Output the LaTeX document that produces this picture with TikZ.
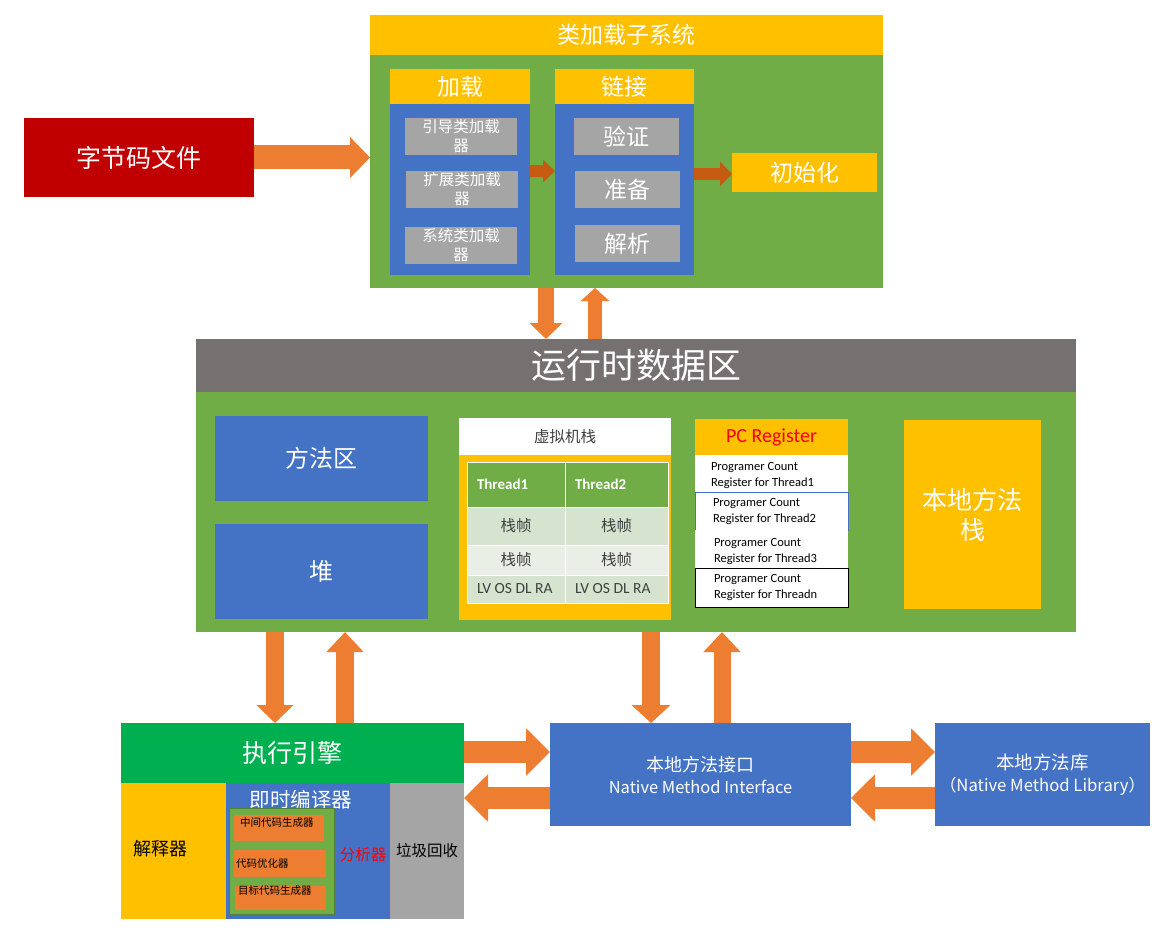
\documentclass[tikz,border=0pt]{standalone}
\usepackage{fontspec}
\setmainfont{Carlito}
\newfontfamily\cjk{Noto Sans CJK SC}
\usetikzlibrary{arrows.meta}
\definecolor{cyel}{HTML}{FFC000}
\definecolor{cgrn}{HTML}{70AD47}
\definecolor{cdgrn}{HTML}{548235}
\definecolor{cblu}{HTML}{4472C4}
\definecolor{cgry}{HTML}{A5A5A5}
\definecolor{cora}{HTML}{ED7D31}
\definecolor{cdora}{HTML}{C55A11}
\definecolor{chdr}{HTML}{767171}
\definecolor{cred}{HTML}{C00000}
\definecolor{cexe}{HTML}{00B050}
\definecolor{crowa}{HTML}{D5E3CF}
\definecolor{crowb}{HTML}{E9EFE6}
\definecolor{ctxt}{HTML}{404040}
\newcommand\fs[2]{\fontsize{#1}{#2}\selectfont}
\begin{document}
\begin{tikzpicture}[x=1pt,y=-1pt,
  box/.style={rectangle,inner sep=0pt,outer sep=0pt,anchor=north west,align=center,text=white},
  cjkf/.style n args={2}{font={\cjk\fs{#1}{#2}}},
  barrow/.style n args={4}{draw=#1,line width=#2,line cap=butt,-{Triangle[width=#3,length=#4]}},
  lbl/.style={inner sep=0pt,outer sep=0pt,anchor=west,align=left}]
\useasboundingbox (0,0) rectangle (1172,936);

% ---------- class loader subsystem ----------
\node[box,fill=cyel,minimum width=513,minimum height=40,cjkf={23}{26}] (clshead) at (370,15) {类加载子系统};
\node[box,fill=cgrn,minimum width=513,minimum height=233] (cls) at (370,55) {};
\node[box,fill=cyel,minimum width=140,minimum height=35,cjkf={23}{26}] (loadhead) at (390,69) {加载};
\node[box,fill=cblu,minimum width=140,minimum height=171] (load) at (390,104) {};
\node[box,fill=cgry,minimum width=112,minimum height=37,cjkf={15.5}{19}] (boot) at (405,118) {引导类加载\\器};
\node[box,fill=cgry,minimum width=112,minimum height=37,cjkf={15.5}{19}] (ext) at (406,171) {扩展类加载\\器};
\node[box,fill=cgry,minimum width=112,minimum height=37,cjkf={15.5}{19}] (sys) at (405,227) {系统类加载\\器};
\node[box,fill=cyel,minimum width=139,minimum height=35,cjkf={23}{26}] (linkhead) at (555,69) {链接};
\node[box,fill=cblu,minimum width=139,minimum height=171] (link) at (555,104) {};
\node[box,fill=cgry,minimum width=105,minimum height=37,cjkf={23}{26}] (verify) at (574,118) {验证};
\node[box,fill=cgry,minimum width=105,minimum height=37,cjkf={23}{26}] (prep) at (575,171) {准备};
\node[box,fill=cgry,minimum width=105,minimum height=37,cjkf={23}{26}] (resolve) at (575,225) {解析};
\node[box,fill=cyel,minimum width=145,minimum height=39,cjkf={23}{26}] (init) at (732,153) {初始化};
\node[box,fill=cred,minimum width=230,minimum height=79,cjkf={25}{28}] (bytecode) at (24,118) {字节码文件};

% ---------- runtime data area ----------
\node[box,fill=chdr,minimum width=880,minimum height=53,cjkf={35}{38}] (rthead) at (196,339) {运行时数据区};
\node[box,fill=cgrn,minimum width=880,minimum height=240] (rt) at (196,392) {};
\node[box,fill=cblu,minimum width=213,minimum height=85,cjkf={24}{28}] (method) at (215,416) {方法区};
\node[box,fill=cblu,minimum width=213,minimum height=95,cjkf={24}{28}] (heap) at (215,524) {堆};
\node[box,fill=white,minimum width=212,minimum height=37,cjkf={15.5}{18},text=ctxt] (vmshead) at (459,418) {虚拟机栈};
\node[box,fill=cyel,minimum width=212,minimum height=165] (vms) at (459,455) {};
\begin{scope}[every node/.style={box,draw=white,line width=1pt,cjkf={15.5}{18},text=ctxt}]
\node[fill=cgrn,minimum width=98,minimum height=45] (t11) at (467,462) {};
\node[fill=cgrn,minimum width=103,minimum height=45] (t12) at (565,462) {};
\node[fill=crowa,minimum width=98,minimum height=38] (t21) at (467,507) {栈帧};
\node[fill=crowa,minimum width=103,minimum height=38] (t22) at (565,507) {栈帧};
\node[fill=crowb,minimum width=98,minimum height=30] (t31) at (467,545) {栈帧};
\node[fill=crowb,minimum width=103,minimum height=30] (t32) at (565,545) {栈帧};
\node[fill=crowa,minimum width=98,minimum height=28] (t41) at (467,575) {};
\node[fill=crowa,minimum width=103,minimum height=28] (t42) at (565,575) {};
\end{scope}
\node[lbl,text=white,font=\bfseries\fs{15}{17}] (th1) at ([xshift=10pt]t11.west) {Thread1};
\node[lbl,text=white,font=\bfseries\fs{15}{17}] (th2) at ([xshift=10pt]t12.west) {Thread2};
\node[lbl,text=ctxt,font=\fs{15.5}{17}] (lv1) at ([xshift=10pt]t41.west) {LV OS DL RA};
\node[lbl,text=ctxt,font=\fs{15.5}{17}] (lv2) at ([xshift=10pt]t42.west) {LV OS DL RA};

\node[box,fill=cyel,minimum width=153,minimum height=36,text=red,font=\fs{20}{22}] (pchead) at (695,419) {PC Register};
\node[box,fill=white,minimum width=153,minimum height=37] (pc1) at (695,455) {};
\node[box,fill=white,draw=cblu,line width=0.8pt,minimum width=153,minimum height=38] (pc2) at (695,492) {};
\node[box,fill=white,minimum width=153,minimum height=38] (pc3) at (695,530) {};
\node[box,fill=white,draw=black,line width=1pt,minimum width=153,minimum height=39] (pc4) at (695,568) {};
\begin{scope}[every node/.style={lbl,text=black,font=\fs{12.5}{16}}]
\node (pct1) at ([xshift=16pt,yshift=-2pt]pc1.west) {Programer Count\\Register for Thread1};
\node (pct2) at ([xshift=18pt,yshift=-1pt]pc2.west) {Programer Count\\Register for Thread2};
\node (pct3) at ([xshift=19pt,yshift=-3pt]pc3.west) {Programer Count\\Register for Thread3};
\node (pct4) at ([xshift=19pt]pc4.west) {Programer Count\\Register for Threadn};
\end{scope}
\node[box,fill=cyel,minimum width=137,minimum height=189,cjkf={25}{30}] (nstack) at (904,420) {本地方法\\栈};

% ---------- execution engine ----------
\node[box,fill=cexe,minimum width=343,minimum height=60,cjkf={25}{28}] (exec) at (121,723) {执行引擎};
\node[box,fill=cyel,minimum width=105,minimum height=136] (interp) at (121,783) {};
\node[lbl,text=black,cjkf={18}{20}] (interpt) at (133,849) {解释器};
\node[box,fill=cblu,minimum width=164,minimum height=136] (jit) at (226,783) {};
\node[text=white,inner sep=0pt,cjkf={20.5}{22}] (jitt) at (301,800) {即时编译器};
\node[box,fill=cgry,minimum width=74,minimum height=136,text=black,cjkf={15.5}{18}] (gc) at (390,783) {垃圾回收};
\node[box,fill=cgrn,draw=cdgrn,line width=1pt,minimum width=105,minimum height=106] (jitin) at (229,808) {};
\node[box,fill=cora,minimum width=90,minimum height=26] (o1) at (234,815) {};
\node[box,fill=cora,minimum width=92,minimum height=27] (o2) at (234,850) {};
\node[box,fill=cora,minimum width=91,minimum height=24] (o3) at (235,886) {};
\node[lbl,text=black,cjkf={10.5}{12}] (o1t) at (240,823) {中间代码生成器};
\node[lbl,text=black,cjkf={10.5}{12}] (o2t) at (236,864) {代码优化器};
\node[lbl,text=black,cjkf={10.5}{12}] (o3t) at (238,891) {目标代码生成器};
\node[text=red,inner sep=0pt,cjkf={15.5}{18}] (ana) at (363,855) {分析器};

\node[box,fill=cblu,minimum width=301,minimum height=103,cjkf={16.5}{22}] (nmi) at (550,723) {{\fs{18}{22}本地方法接口}\\Native Method Interface};
\node[box,fill=cblu,minimum width=215,minimum height=103,cjkf={16.7}{22}] (nml) at (935,723) {{\fs{18.5}{22}本地方法库}\\（Native Method Library）};

% ---------- block arrows ----------
\draw[barrow={cora}{24pt}{40pt}{20pt}] (bytecode.east) -- (cls.west |- bytecode.east);
\draw[barrow={cdora}{12pt}{22pt}{12pt}] (load.east |- 0,171) -- (link.west |- 0,171);
\draw[barrow={cdora}{12pt}{24pt}{12pt}] (link.east |- 0,174) -- (init.west |- 0,174);
\draw[barrow={cora}{16pt}{32pt}{16pt}] (546,0 |- cls.south) -- (546,0 |- rthead.north);
\draw[barrow={cora}{14pt}{28pt}{13pt}] (595,0 |- rthead.north) -- (595,0 |- cls.south);
\draw[barrow={cora}{18pt}{36pt}{18pt}] (275,0 |- rt.south) -- (275,0 |- exec.north);
\draw[barrow={cora}{18pt}{36pt}{20pt}] (345,0 |- exec.north) -- (345,0 |- rt.south);
\draw[barrow={cora}{18pt}{38pt}{18pt}] (651,0 |- rt.south) -- (651,0 |- nmi.north);
\draw[barrow={cora}{17pt}{36pt}{20pt}] (722,0 |- nmi.north) -- (722,0 |- rt.south);
\draw[barrow={cora}{22pt}{46pt}{24pt}] (exec.east |- 0,752) -- (nmi.west |- 0,752);
\draw[barrow={cora}{22pt}{46pt}{24pt}] (nmi.west |- 0,798) -- (exec.east |- 0,798);
\draw[barrow={cora}{22pt}{46pt}{24pt}] (nmi.east |- 0,752) -- (nml.west |- 0,752);
\draw[barrow={cora}{22pt}{46pt}{24pt}] (nml.west |- 0,798) -- (nmi.east |- 0,798);
\end{tikzpicture}
\end{document}
